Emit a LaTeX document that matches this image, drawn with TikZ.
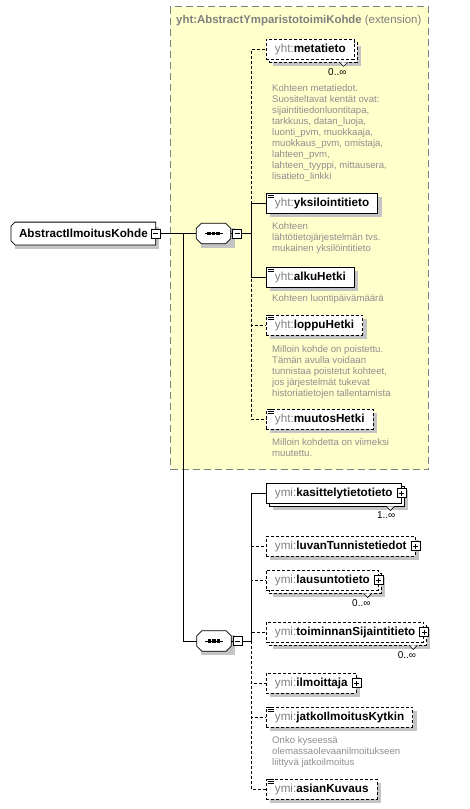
\documentclass[tikz,border=0pt]{standalone}
\usepackage{fontspec}
\setmainfont{Liberation Sans}
\usepackage{xcolor}
\usepackage{tikz}
\usetikzlibrary{shapes,positioning,shadows}

\definecolor{extfill}{HTML}{FFFFCC}
\definecolor{extline}{HTML}{808080}
\definecolor{shadowgray}{HTML}{C4C4C4}
\definecolor{prefixgray}{HTML}{808080}
\definecolor{descgray}{HTML}{8E8E8E}

\newcommand{\yht}[1]{{\color{prefixgray}\mdseries yht:}#1}
\newcommand{\ymi}[1]{{\color{prefixgray}\mdseries ymi:}#1}
\newcommand{\simpleicon}[1]{%
  \foreach \dy in {1,2.8,4.6}
    \draw[line width=.6pt] ([xshift=1.5pt,yshift=-\dy pt]#1.north west) -- ++(6,0);}
\newcommand{\notch}[1]{%
  \draw[line width=.6pt, fill=white] ([xshift=-15pt,yshift=-3pt]#1.south east) -- ++(4,4) -- ++(4,-4);}
\newcommand{\seqshape}[1]{%
  \draw[line width=.8pt, fill=white] ([xshift=5pt]#1.north west) -- ([xshift=-5pt]#1.north east) -- ([yshift=-5pt]#1.north east)
    -- ([yshift=5pt]#1.south east) -- ([xshift=-5pt]#1.south east) -- ([xshift=5pt]#1.south west)
    -- ([yshift=5pt]#1.south west) -- ([yshift=-5pt]#1.north west) -- cycle;
  \draw[line width=1pt] ([xshift=-9pt]#1.center) -- ([xshift=9pt]#1.center);
  \foreach \dx in {-4.5,0,4.5} \fill ([xshift=\dx pt]#1.center) +(-1.6,-1.6) rectangle +(1.6,1.6);}

\begin{document}
\begin{tikzpicture}[
    x=1pt, y=-1pt,
    node distance=8pt,
    elem/.style={rectangle, draw, fill=white, line width=.8pt, minimum height=20pt, inner xsep=8.5pt, inner ysep=0pt, anchor=west,
      font=\fontsize{11.7}{13}\selectfont\bfseries, drop shadow={shadow xshift=4pt, shadow yshift=-4pt, fill=shadowgray, opacity=1}},
    opt/.style={dash pattern=on 3pt off 2pt},
    multi/.style={drop shadow={shadow xshift=6.5pt, shadow yshift=-6.5pt, fill=shadowgray, opacity=1},
      copy shadow={shadow xshift=3pt, shadow yshift=-3pt, draw=black, fill=white, line width=.8pt, #1}},
    multi/.default={},
    seq/.style={rectangle, minimum width=34pt, minimum height=20pt, inner sep=0pt,
      drop shadow={shadow xshift=4pt, shadow yshift=-4pt, fill=shadowgray, opacity=1}},
    pmbox/.style={draw, fill=white, line width=.7pt, minimum size=9pt, inner sep=0pt},
    minusbox/.style={pmbox, path picture={
        \draw ([xshift=2pt]path picture bounding box.west) -- ([xshift=-2pt]path picture bounding box.east);}},
    plusbox/.style={pmbox, path picture={
        \draw ([xshift=2pt]path picture bounding box.west) -- ([xshift=-2pt]path picture bounding box.east);
        \draw ([yshift=2pt]path picture bounding box.south) -- ([yshift=-2pt]path picture bounding box.north);}},
    desc/.style={align=left, inner sep=0pt, text=descgray, font=\fontsize{9.6}{11}\selectfont},
    mult/.style={inner sep=0pt, font=\fontsize{10}{12}\selectfont},
    conn/.style={line width=.8pt}
]
\useasboundingbox (0,0) rectangle (470,809);

\node[draw=extline, fill=extfill, line width=1pt, dash pattern=on 7pt off 4pt, minimum width=258pt, minimum height=463pt, anchor=north west] (ext) at (170,6) {};
\node[inner sep=0pt, text=extline, font=\fontsize{11.4}{13}\selectfont, below right=9pt and 6pt of ext.north west] (exttitle)
  {\textbf{yht:AbstractYmparistotoimiKohde} (extension)};

\node[elem, draw=none, minimum width=144pt, minimum height=22pt, inner xsep=0pt] (root) at (11,233.5) {AbstractIlmoitusKohde\hspace{9pt}};
\draw[line width=.8pt] ([xshift=4pt]root.north west) -- (root.north east) -- (root.south east) -- ([xshift=4pt]root.south west)
  -- ([yshift=4pt]root.south west) -- ([yshift=-4pt]root.north west) -- cycle;
\node[seq] (seqA) at (213.5,233.5) {};
\node[seq] (seqB) at (214,641) {};
\seqshape{seqA}
\seqshape{seqB}

\node[elem, opt, multi=opt] (meta) at (266,49) {\yht{metatieto}};
\node[elem] (yks) at (266,203) {\yht{yksilointitieto}};
\node[elem] (alku) at (266,277) {\yht{alkuHetki}};
\node[elem, opt] (loppu) at (266,325) {\yht{loppuHetki}};
\node[elem, opt] (muutos) at (266,419) {\yht{muutosHetki}};
\node[elem, multi] (kas) at (266,493) {\ymi{kasittelytietotieto}\hspace{5pt}};
\node[elem, opt] (luvan) at (266,546) {\ymi{luvanTunnistetiedot}\hspace{5pt}};
\node[elem, opt, multi=opt] (lausu) at (266,580) {\ymi{lausuntotieto}\hspace{5pt}};
\node[elem, opt, multi=opt] (toim) at (266,632) {\ymi{toiminnanSijaintitieto}\hspace{5pt}};
\node[elem, opt] (ilm) at (266,683) {\ymi{ilmoittaja}\hspace{5pt}};
\node[elem, opt] (jatko) at (266,717) {\ymi{jatkoIlmoitusKytkin}};
\node[elem, opt] (asian) at (266,789) {\ymi{asianKuvaus}};

\node[desc, below right=25pt and 6pt of meta.south west] (metadesc) {Kohteen metatiedot.\\Suositeltavat kentät ovat:\\sijaintitiedonluontitapa,\\tarkkuus, datan\_luoja,\\luonti\_pvm, muokkaaja,\\muokkaus\_pvm, omistaja,\\lahteen\_pvm,\\lahteen\_tyyppi, mittausera,\\lisatieto\_linkki};
\node[desc, below right=9pt and 6pt of yks.south west] (yksdesc) {Kohteen\\lähtötietojärjestelmän tvs.\\mukainen yksilöintitieto};
\node[desc, below right=7pt and 6pt of alku.south west] (alkudesc) {Kohteen luontipäivämäärä};
\node[desc, below right=10pt and 6pt of loppu.south west] (loppudesc) {Milloin kohde on poistettu.\\Tämän avulla voidaan\\tunnistaa poistetut kohteet,\\jos järjestelmät tukevat\\historiatietojen tallentamista};
\node[desc, below right=9pt and 6pt of muutos.south west] (muutosdesc) {Milloin kohdetta on viimeksi\\muutettu.};
\node[desc, below right=9pt and 6pt of jatko.south west] (jatkodesc) {Onko kyseessä\\olemassaolevaanilmoitukseen\\liittyvä jatkoilmoitus};

\coordinate (fork) at (183,233.5);
\coordinate (tA) at (251,233.5);
\coordinate (tB) at (251,641);

\draw[conn] (root) -- (seqA);
\draw[conn] (seqA) -- (tA);
\draw[conn] (fork) |- (seqB);
\draw[conn] (seqB) -- (tB);
\foreach \n in {yks,alku} \draw[conn] (tA) |- (\n);
\foreach \n in {meta,loppu,muutos} \draw[conn,opt] (tA) |- (\n);
\draw[conn] (tB) |- (kas);
\foreach \n in {luvan,lausu,toim,ilm,jatko,asian} \draw[conn,opt] (tB) |- (\n);

\foreach \n in {yks,alku,loppu,muutos,jatko,asian} {\simpleicon{\n}}
\foreach \n in {meta,kas,lausu,toim} {\notch{\n}}

\node[mult, below left=8.5pt and 8pt of meta.south east] (metamult) {0..∞};
\node[mult, below left=8.5pt and 6pt of kas.south east] (kasmult) {1..∞};
\node[mult, below left=8.5pt and 8pt of lausu.south east] (lausumult) {0..∞};
\node[mult, below left=8.5pt and 8pt of toim.south east] (toimmult) {0..∞};

\node[minusbox] (rootm) at (root.east) {};
\node[minusbox, right=1.5pt of seqA] (seqAm) {};
\node[minusbox, right=1.5pt of seqB] (seqBm) {};
\foreach \n in {kas,luvan,lausu,toim,ilm} \node[plusbox] (\n p) at (\n.east) {};
\end{tikzpicture}
\end{document}
